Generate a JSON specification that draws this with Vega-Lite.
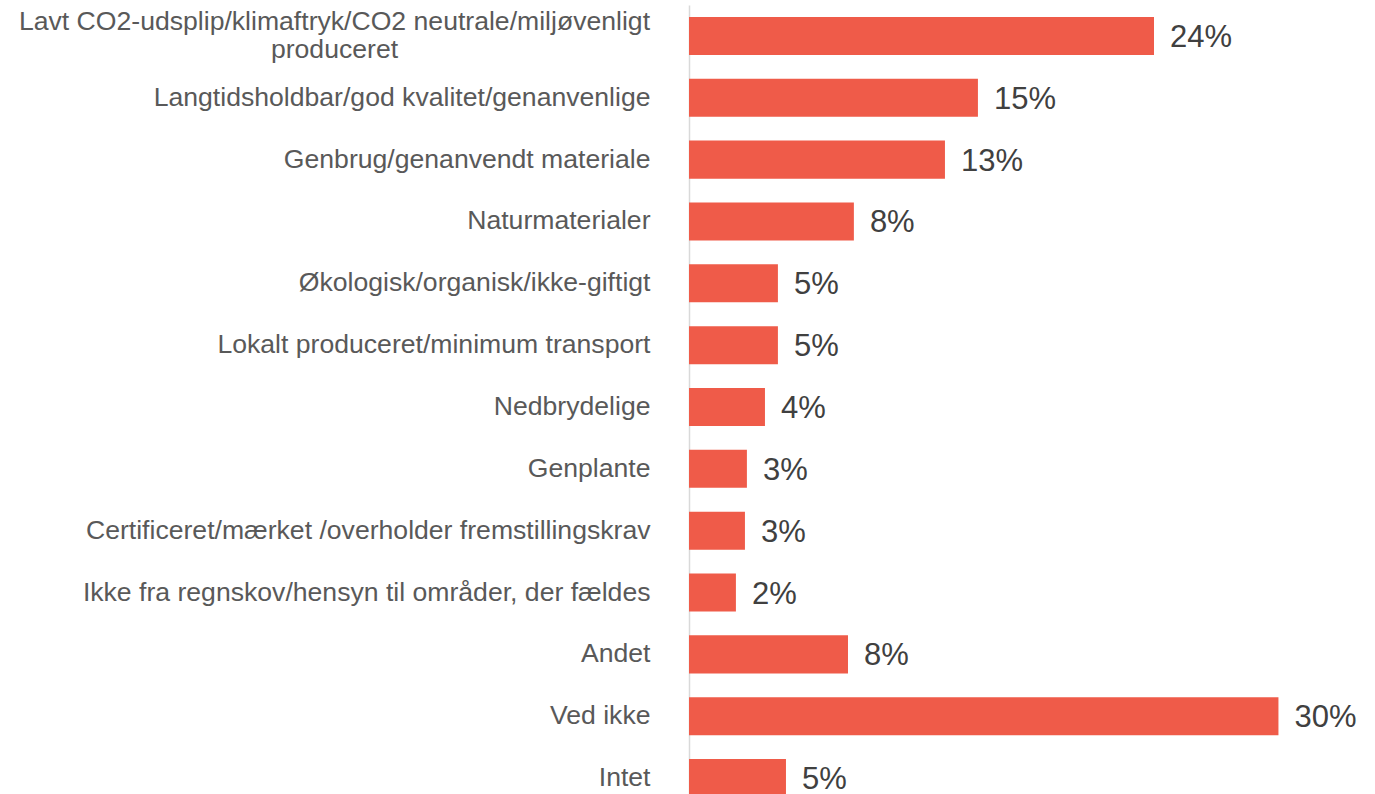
{
  "$schema": "https://vega.github.io/schema/vega-lite/v6.json",
  "width": 687,
  "height": 804,
  "padding": {"left": 18, "top": 5, "right": 0, "bottom": 0},
  "background": "white",
  "config": {"view": {"stroke": null}, "font": "Liberation Sans"},
  "data": {
    "values": [
      {"kategori": "Lavt CO2-udsplip/klimaftryk/CO2 neutrale/miljøvenligt produceret", "andel": 0.2369},
      {"kategori": "Langtidsholdbar/god kvalitet/genanvenlige", "andel": 0.1472},
      {"kategori": "Genbrug/genanvendt materiale", "andel": 0.1304},
      {"kategori": "Naturmaterialer", "andel": 0.084},
      {"kategori": "Økologisk/organisk/ikke-giftigt", "andel": 0.0453},
      {"kategori": "Lokalt produceret/minimum transport", "andel": 0.0453},
      {"kategori": "Nedbrydelige", "andel": 0.0387},
      {"kategori": "Genplante", "andel": 0.0295},
      {"kategori": "Certificeret/mærket /overholder fremstillingskrav", "andel": 0.0285},
      {"kategori": "Ikke fra regnskov/hensyn til områder, der fældes", "andel": 0.0239},
      {"kategori": "Andet", "andel": 0.081},
      {"kategori": "Ved ikke", "andel": 0.3003},
      {"kategori": "Intet", "andel": 0.0494}
    ]
  },
  "encoding": {
    "y": {
      "field": "kategori",
      "type": "nominal",
      "sort": null,
      "scale": {"paddingInner": 0.385, "paddingOuter": 0.1925},
      "axis": {
        "title": null,
        "ticks": false,
        "domainColor": "#D9D9D9",
        "domainWidth": 1.5,
        "labelFont": "Liberation Sans",
        "labelFontSize": 26.6,
        "labelColor": "#595959",
        "labelLimit": 800,
        "labelLineHeight": 28,
        "labelPadding": {"condition": {"test": "datum.value === 'Lavt CO2-udsplip/klimaftryk/CO2 neutrale/miljøvenligt produceret'", "value": 355}, "value": 39},
        "labelAlign": {"condition": {"test": "datum.value === 'Lavt CO2-udsplip/klimaftryk/CO2 neutrale/miljøvenligt produceret'", "value": "center"}, "value": "right"},
        "labelOffset": {"condition": {"test": "datum.value === 'Lavt CO2-udsplip/klimaftryk/CO2 neutrale/miljøvenligt produceret'", "value": -14}, "value": 0},
        "labelExpr": "datum.value === 'Lavt CO2-udsplip/klimaftryk/CO2 neutrale/miljøvenligt produceret' ? ['Lavt CO2-udsplip/klimaftryk/CO2 neutrale/miljøvenligt', 'produceret'] : datum.label"
      }
    },
    "x": {
      "field": "andel",
      "type": "quantitative",
      "scale": {"domain": [0, 0.35], "nice": false},
      "axis": null
    }
  },
  "layer": [
    {"mark": {"type": "bar", "color": "#EF5B49"}},
    {
      "mark": {"type": "text", "align": "left", "baseline": "middle", "dx": 16, "dy": 2, "font": "Liberation Sans", "fontSize": 31, "color": "#404040"},
      "encoding": {"text": {"field": "andel", "type": "quantitative", "format": ".0%"}}
    }
  ]
}
